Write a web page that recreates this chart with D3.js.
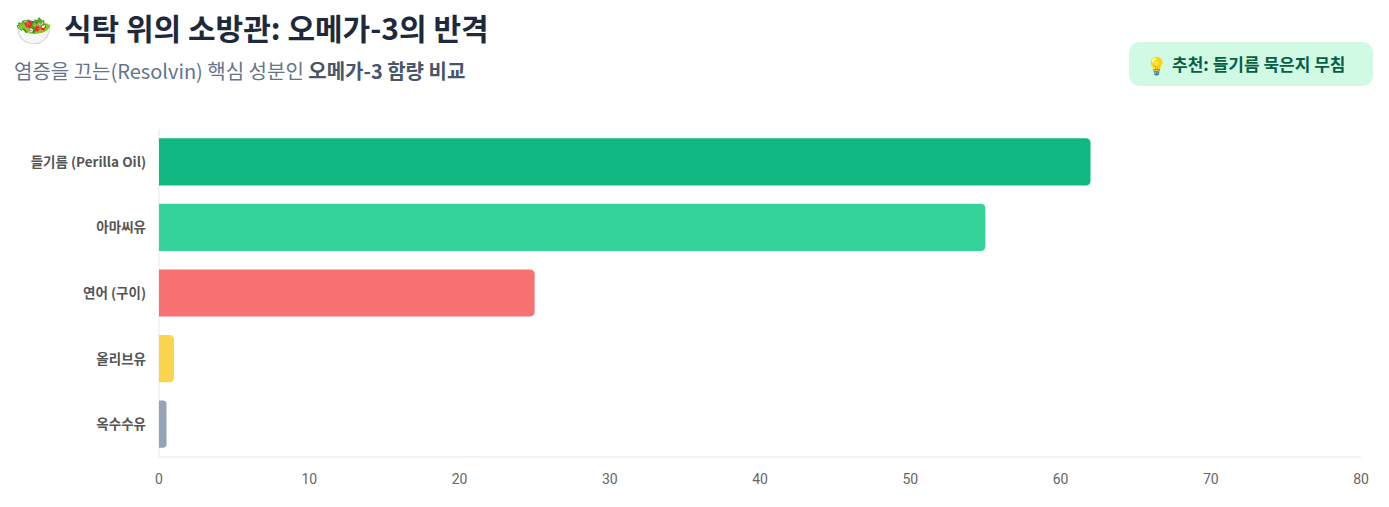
<!DOCTYPE html>
<html><head><meta charset="utf-8">
<script src="https://cdn.jsdelivr.net/npm/d3@7"></script>
<style>
body{margin:0;background:#fff;font-family:"Noto Sans CJK KR","Noto Sans",sans-serif;}
</style></head><body>
<svg id="chart" width="1389" height="507"></svg>
<script>
const categories = ["들기름 (Perilla Oil)", "아마씨유", "연어 (구이)", "올리브유", "옥수수유"];
const omega3 = [62, 55, 25, 1, 0.5];
const colors = ["#10b981", "#34d399", "#f87171", "#fcd34d", "#94a3b8"];
const xTicks = [0, 10, 20, 30, 40, 50, 60, 70, 80];

const svg = d3.select("#chart");
const font = '"Noto Sans CJK KR","Noto Sans",sans-serif';

// title
svg.append("text").attr("x", 15).attr("y", 41).attr("font-size", 30)
  .attr("font-family", font).text("🥗");
svg.append("text").attr("x", 64).attr("y", 40).attr("font-size", 30).attr("font-weight", 700)
  .attr("fill", "#1e293b").attr("font-family", font).text("식탁 위의 소방관: 오메가-3의 반격");
const sub = svg.append("text").attr("x", 14).attr("y", 79).attr("font-size", 20)
  .attr("fill", "#64748b").attr("font-family", font);
sub.append("tspan").text("염증을 끄는(Resolvin) 핵심 성분인 ");
sub.append("tspan").attr("font-weight", 700).attr("fill", "#475569").text("오메가-3 함량 비교");

// badge
svg.append("rect").attr("x", 1129).attr("y", 42).attr("width", 244).attr("height", 44)
  .attr("rx", 10).attr("fill", "#d1fae5");
svg.append("text").attr("x", 1146).attr("y", 72).attr("font-size", 17).text("💡");
svg.append("text").attr("x", 1172).attr("y", 71).attr("font-size", 17).attr("font-weight", 700)
  .attr("fill", "#065f46").attr("font-family", font).text("추천: 들기름 묵은지 무침");

const x = d3.scaleLinear().domain([0, 80]).range([159, 1361]);
const y = d3.scaleBand().domain(categories).range([129, 457]).paddingInner(0.28).paddingOuter(0.14);

// axes
svg.append("line").attr("x1", 159).attr("x2", 159).attr("y1", 129).attr("y2", 457).attr("stroke", "#e5e7eb");
svg.append("line").attr("x1", 159).attr("x2", 1361).attr("y1", 457).attr("y2", 457).attr("stroke", "#e5e7eb");

svg.selectAll(".xt").data(xTicks).join("text").attr("class", "xt")
  .attr("x", d => x(d)).attr("y", 484).attr("text-anchor", "middle")
  .attr("font-size", 14).attr("fill", "#666").attr("font-family", "Roboto,sans-serif").text(d => d);

svg.selectAll(".yt").data(categories).join("text").attr("class", "yt")
  .attr("x", 146).attr("y", d => y(d) + y.bandwidth() / 2 + 5).attr("text-anchor", "end")
  .attr("font-size", 13.5).attr("font-weight", 700).attr("fill", "#555").attr("font-family", font).text(d => d);

// bars with rounded right end
svg.selectAll(".bar").data(categories).join("path").attr("class", "bar")
  .attr("fill", (d, i) => colors[i])
  .attr("d", (d, i) => {
    const x0 = x(0), x1 = x(omega3[i]), y0 = y(d), h = y.bandwidth();
    const r = Math.min(5, (x1 - x0) / 2);
    return `M${x0},${y0}H${x1 - r}Q${x1},${y0} ${x1},${y0 + r}V${y0 + h - r}Q${x1},${y0 + h} ${x1 - r},${y0 + h}H${x0}Z`;
  });
</script>
</body></html>
